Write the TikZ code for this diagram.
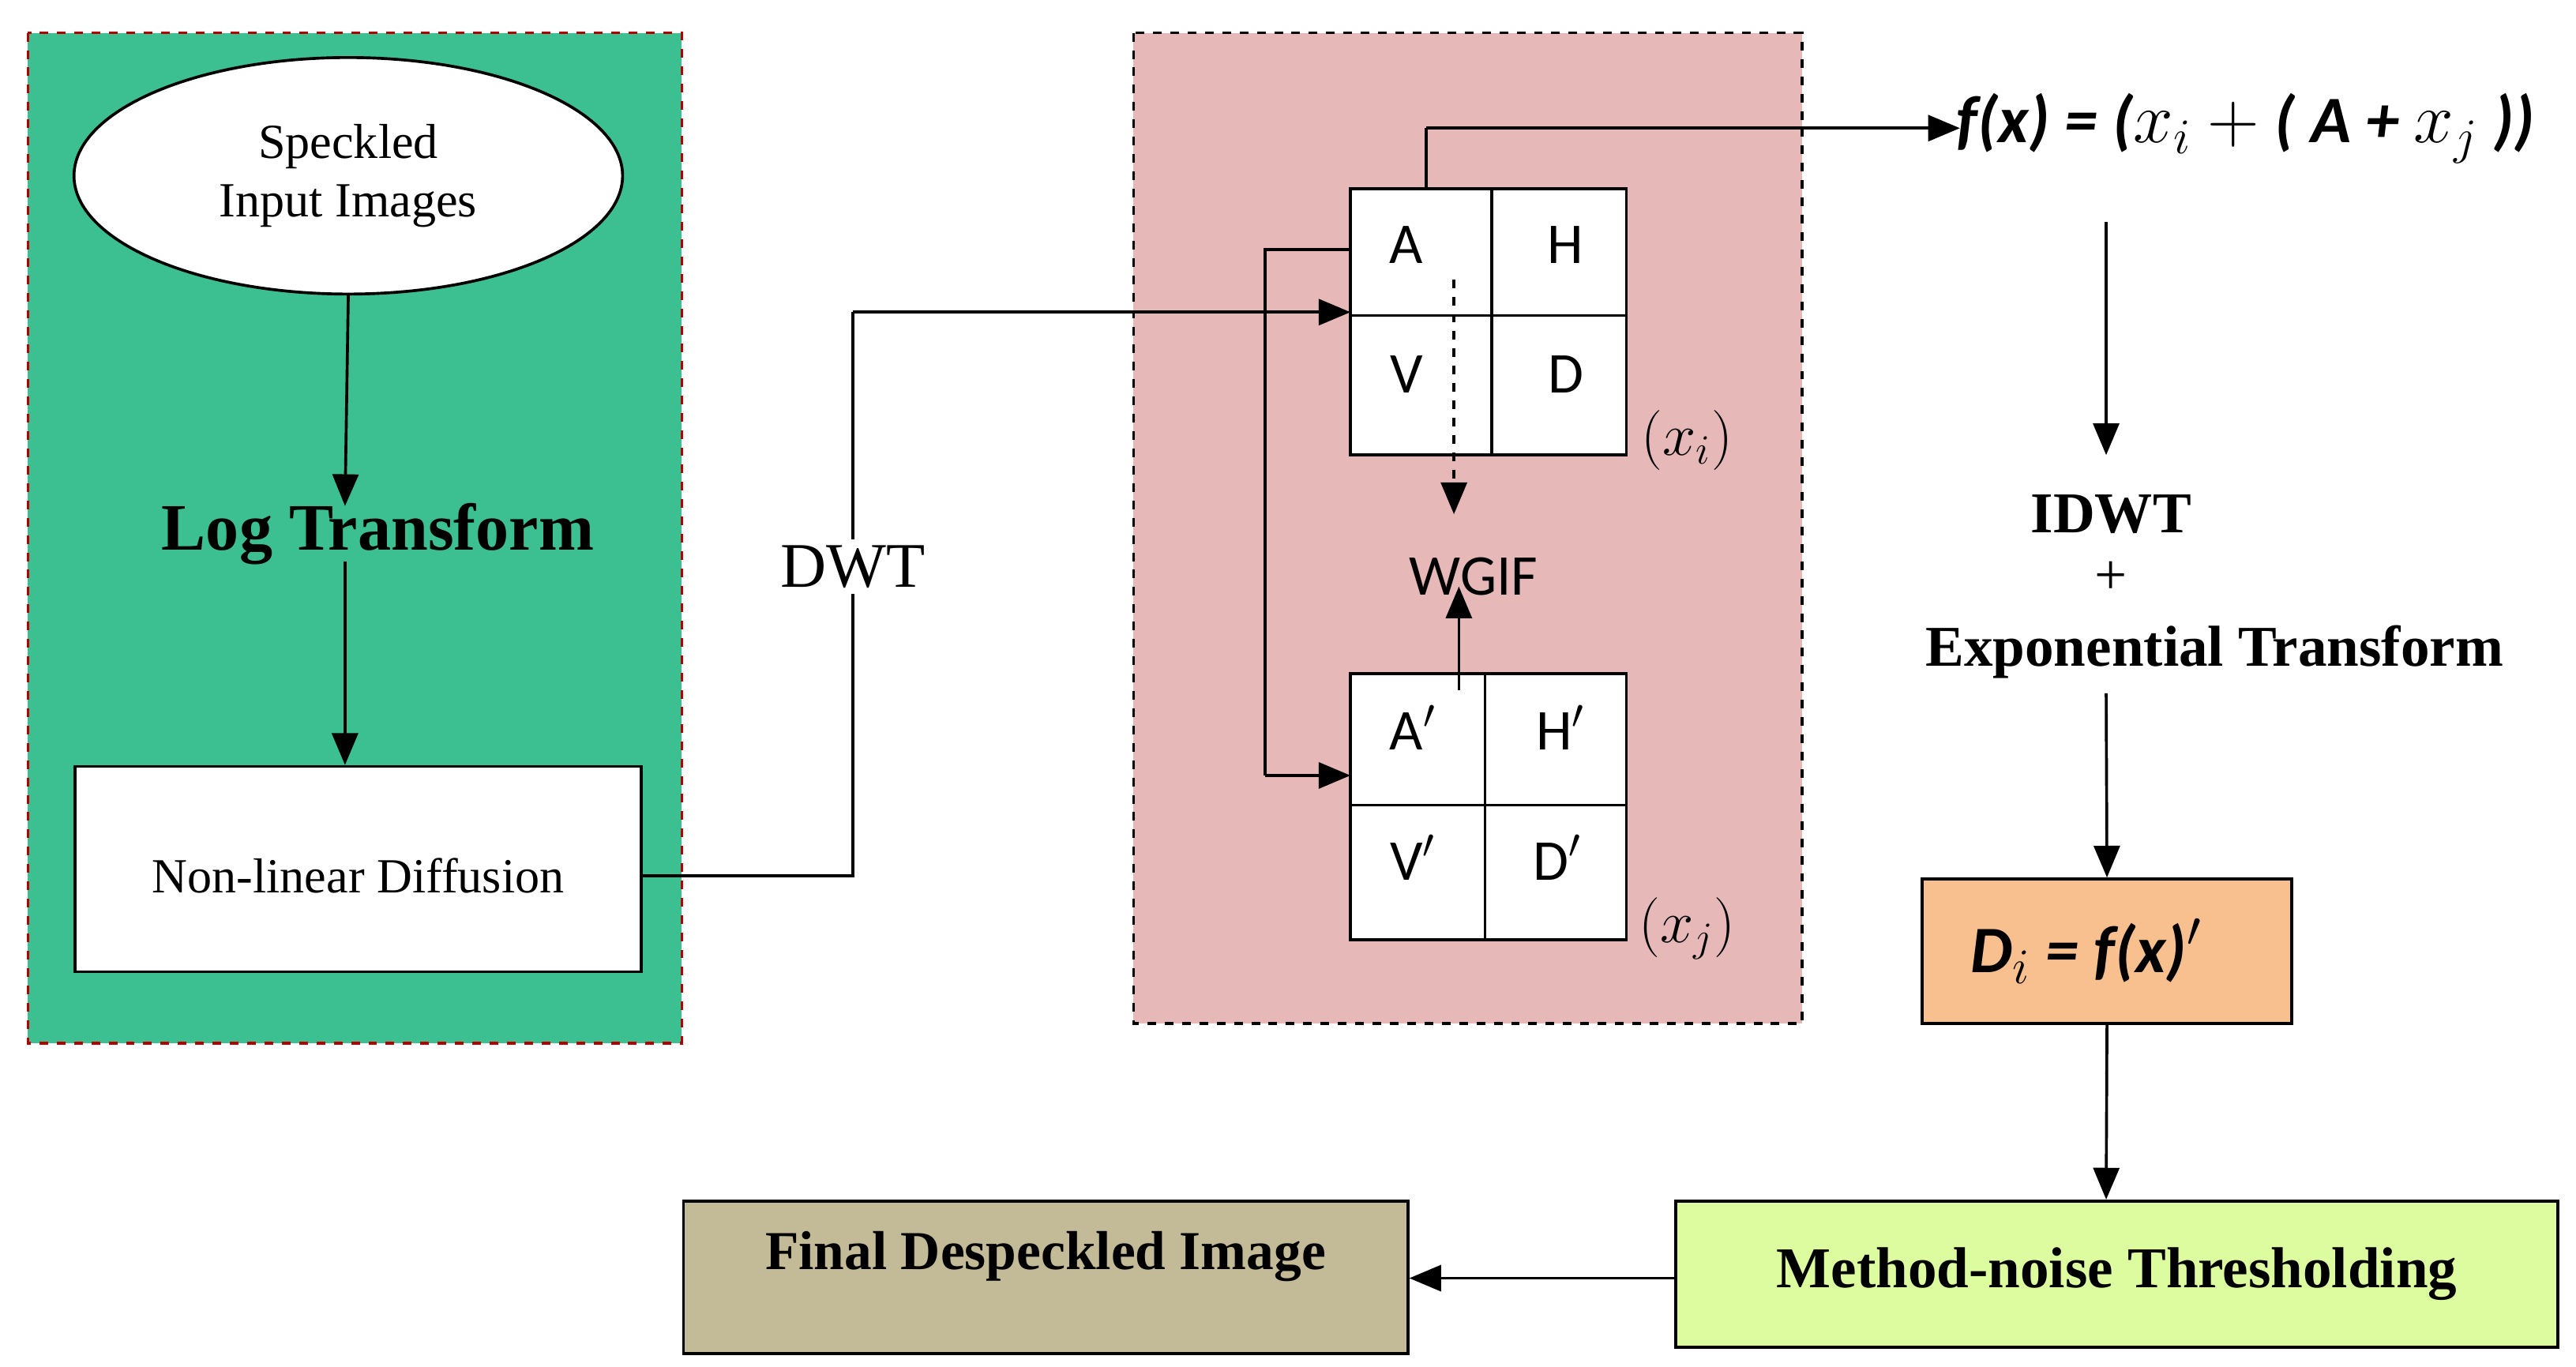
\documentclass[tikz,border=0pt]{standalone}
\usepackage{fontspec}
\setmainfont{Liberation Serif}
\newfontfamily\carlitofam{Carlito}
\usetikzlibrary{arrows.meta,shapes.geometric}
\begin{document}
\begin{tikzpicture}[x=0.02cm,y=-0.02cm,
  arr/.style={-{Triangle[length=11pt,width=9pt]},line width=1pt},
  ln/.style={line width=1pt},
  box/.style={draw,line width=1pt,anchor=center},
  ser/.style={font=\fontsize{17}{20}\selectfont},
  bser/.style={font=\fontsize{20}{24}\selectfont\bfseries},
  sans/.style={font=\carlitofam\fontsize{20}{24}\selectfont}]
\useasboundingbox (0,0) rectangle (1568,832);
\definecolor{gbg}{HTML}{3CBF91}
\definecolor{pbg}{HTML}{E6B8B8}
\definecolor{obg}{HTML}{F9C08F}
\definecolor{lg}{HTML}{DDFB9F}
\definecolor{tan}{HTML}{C3BA98}
% panels
\fill[gbg] (17,20) rectangle (415,635);
\draw[red!70!black,dashed,line width=1pt] (17,20) rectangle (415,635);
\fill[pbg] (690,20) rectangle (1097,623);
\draw[dashed,line width=1pt] (690,20) rectangle (1097,623);
% left column
\node[ellipse,draw,fill=white,line width=1pt,ser,align=center,inner sep=0pt,
  minimum width=6.68cm,minimum height=2.88cm] (inp) at (212,107) {Speckled\\Input Images};
\node[font=\fontsize{23}{26}\selectfont\bfseries] (log) at (230,325) {Log Transform};
\node[box,fill=white,minimum width=6.9cm,minimum height=2.5cm] (nld) at (218,529) {};
\node[ser] (nldt) at (218,533) {Non-linear Diffusion};
\draw[arr] (inp.south) -- (210,308);
\draw[arr] (210,342) -- (nld.north -| 210,0);
% DWT connector
\coordinate (c1) at (519,533);
\coordinate (c2) at (519,190);
\node[box,fill=white,minimum width=3.36cm,minimum height=3.24cm] (g1) at (906,196) {};
\draw[ln] (908,115) -- (908,277) (822,192) -- (990,192);
\node[box,fill=white,minimum width=3.36cm,minimum height=3.24cm] (g2) at (906,491) {};
\draw[ln] (904,410) -- (904,572) (822,490) -- (990,490);
\draw[ln] (nld.east |- 0,533) -- (c1) -- (c2);
\draw[arr] (c2) -- (822,190);
\node[font=\fontsize{22}{24}\selectfont,fill=white,inner sep=2pt] (dwt) at (519,345) {DWT};
% grid labels
\node[sans] (la) at (856,149) {A};
\node[sans] (lh) at (953,149) {H};
\node[sans] (lv) at (856,228) {V};
\node[sans] (ld) at (953,228) {D};
\node[sans] (la2) at (860,443) {A$'$};
\node[sans] (lh2) at (950,443) {H$'$};
\node[sans] (lv2) at (860,522) {V$'$};
\node[sans] (ld2) at (948,522) {D$'$};
\node[font=\fontsize{22}{24}\selectfont] (xi) at (1027,268) {$(x_i)$};
\node[font=\fontsize{22}{24}\selectfont] (xj) at (1027,565) {$(x_j)$};
\node[sans] (wgif) at (897,351) {WGIF};
\draw[arr,dashed] (885,170) -- (885,313);
\draw[arr] (888,420) -- (888,357);
\coordinate (c3) at (770,152);
\coordinate (c4) at (770,472);
\draw[ln] (822,152) -- (c3) -- (c4);
\draw[arr] (c4) -- (822,472);
% f(x)
\node[font=\carlitofam\fontsize{23}{26}\selectfont\bfseries\itshape] (fx) at (1367,78) {f(x) = ($x_i+{}$( A + $x_j$ ))};
\coordinate (c5) at (868,78);
\draw[ln] (868,115) -- (c5);
\draw[arr] (c5) -- (1193,78);
% right column
\node[bser] (idwt) at (1285,313) {IDWT};
\node[font=\fontsize{20}{24}\selectfont] (plus) at (1285,352) {+};
\node[bser] (exp) at (1348,397) {Exponential Transform};
\draw[arr] (1282,135) -- (1282,277);
\node[box,fill=obg,minimum width=4.5cm,minimum height=1.76cm] (di) at (1282.5,579) {};
\node[font=\carlitofam\fontsize{23}{26}\selectfont\bfseries\itshape] (dit) at (1270,579) {D$_i$ = f(x)$'$};
\draw[arr] (1282,422) -- (di.north);
\node[box,fill=lg,minimum width=10.74cm,minimum height=1.78cm,bser] (mnt) at (1288.5,775.5) {Method-noise Thresholding};
\draw[arr] (di.south) -- (mnt.north -| 1282,0);
\node[box,fill=tan,minimum width=8.82cm,minimum height=1.86cm] (fin) at (636.5,777.5) {};
\node[font=\fontsize{19}{22}\selectfont\bfseries] (fint) at (636.5,765) {Final Despeckled Image};
\draw[arr] (mnt.west |- 0,778) -- (fin.east |- 0,778);
\end{tikzpicture}
\end{document}
